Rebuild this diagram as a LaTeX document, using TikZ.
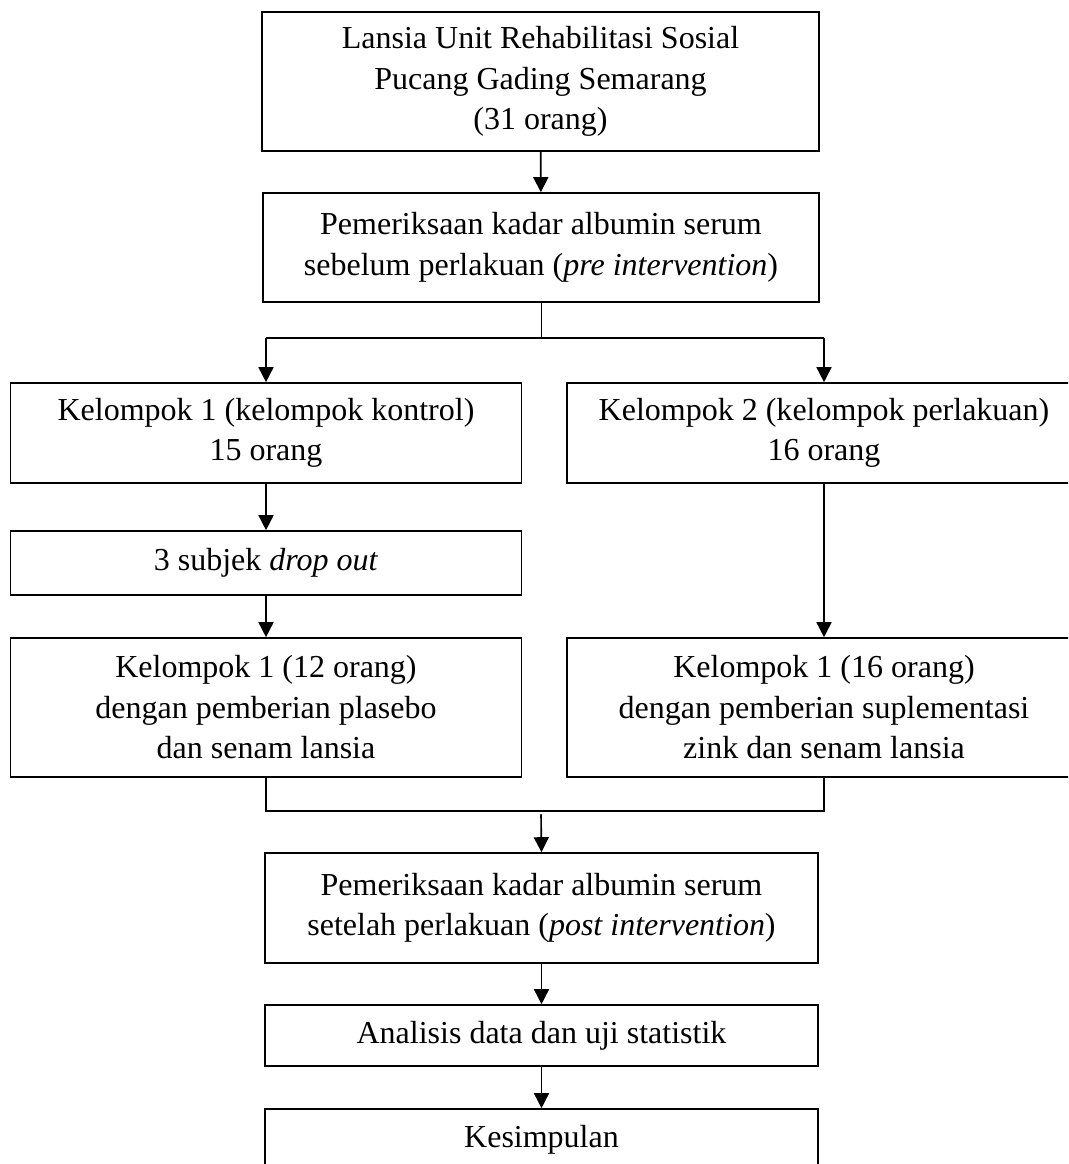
\documentclass[tikz,border=0pt]{standalone}
\usepackage{fontspec}
\setmainfont{Liberation Serif}
\usetikzlibrary{arrows.meta}

\tikzset{
  kotak/.style={draw, line width=0.65pt, align=center, inner sep=0pt,
    font=\fontsize{12.8}{16.2}\selectfont},
  panah/.style={line width=0.65pt, -{Triangle[length=6pt,width=6pt]}},
  garis/.style={line width=0.65pt},
  tipis/.style={line width=0.3pt},
}

\begin{document}
\begin{tikzpicture}[x=0.4pt,y=-0.4pt]
  \useasboundingbox (0,0) rectangle (1068,1164);
  \clip (0,0) rectangle (1068,1164);
  % kotak-kotak
  \node[kotak, minimum width=222.8pt, minimum height=55.6pt] (lansia) at (540.5,81.5)
    {Lansia Unit Rehabilitasi Sosial\\Pucang Gading Semarang\\(31 orang)};
  \node[kotak, minimum width=222.4pt, minimum height=43.6pt] (pre) at (541,247.5)
    {Pemeriksaan kadar albumin serum\\sebelum perlakuan (\textit{pre intervention})};
  \node[kotak, minimum width=204.4pt, minimum height=40pt] (kontrol) at (266,433)
    {Kelompok 1 (kelompok kontrol)\\15 orang};
  \node[kotak, minimum width=205.6pt, minimum height=40pt] (perlakuan) at (824,433)
    {Kelompok 2 (kelompok perlakuan)\\16 orang};
  \node[kotak, minimum width=204.4pt, minimum height=25.6pt] (dropout) at (266,563)
    {3 subjek \textit{drop out}};
  \node[kotak, minimum width=204.4pt, minimum height=55.6pt] (plasebo) at (266,707.5)
    {Kelompok 1 (12 orang)\\dengan pemberian plasebo\\dan senam lansia};
  \node[kotak, minimum width=205.6pt, minimum height=55.6pt] (zink) at (824,707.5)
    {Kelompok 1 (16 orang)\\dengan pemberian suplementasi\\zink dan senam lansia};
  \node[kotak, minimum width=221.2pt, minimum height=44pt] (post) at (541.5,908)
    {Pemeriksaan kadar albumin serum\\setelah perlakuan (\textit{post intervention})};
  \node[kotak, minimum width=221.2pt, minimum height=24.4pt] (analisis) at (541.5,1035.5)
    {Analisis data dan uji statistik};
  \node[kotak, minimum width=221.2pt, minimum height=24.8pt] (simpul) at (541.5,1140)
    {Kesimpulan};
  % titik cabang
  \coordinate (pisah) at (541,338);
  \coordinate (gabung) at (541,811);
  % panah
  \draw[panah] (lansia) -- (pre);
  \draw[tipis] (pre.south) -- (pisah);
  \draw[garis] (kontrol.north |- pisah) -- (perlakuan.north |- pisah);
  \draw[panah] (kontrol.north |- pisah) -- (kontrol.north);
  \draw[panah] (perlakuan.north |- pisah) -- (perlakuan.north);
  \draw[panah] (kontrol) -- (dropout);
  \draw[panah] (dropout) -- (plasebo);
  \draw[panah] (perlakuan) -- (zink);
  \draw[garis] (plasebo.south) -- (plasebo.south |- gabung) -- (zink.south |- gabung) -- (zink.south);
  \draw[panah] ([yshift=-1.3pt]gabung) -- (post.north);
  \draw[panah] (post) -- (analisis);
  \draw[panah] (analisis) -- (simpul);
\end{tikzpicture}
\end{document}
